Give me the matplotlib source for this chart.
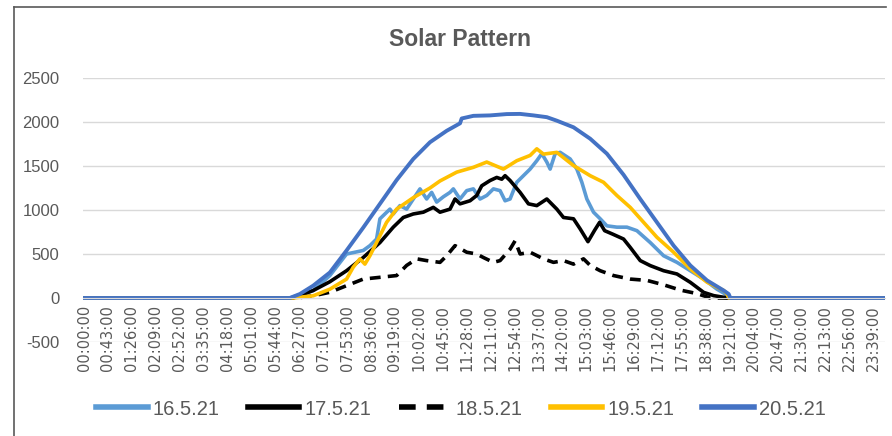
import matplotlib.pyplot as plt

# minutes of the day (x) and power readings (y)
t_16 = [0, 370, 412, 442, 472, 502, 514, 526, 532, 550, 556, 568, 580, 604, 616, 625, 634, 646,
        658, 664, 676, 688, 700, 712, 724, 736, 748, 757, 766, 778, 790, 802, 814, 823, 832, 838,
        847, 856, 874, 886, 895, 904, 916, 928, 940, 958, 976, 994, 1018, 1042, 1066, 1090, 1114,
        1138, 1153, 1159, 1439]
v_16 = [0, 0, 85, 255, 500, 540, 595, 670, 900, 1010, 955, 1050, 1010, 1240, 1125, 1200, 1090, 1150,
        1200, 1240, 1125, 1220, 1240, 1125, 1165, 1240, 1220, 1105, 1125, 1315, 1390, 1465, 1560, 1640,
        1545, 1465, 1640, 1655, 1580, 1465, 1315, 1125, 975, 900, 820, 805, 805, 765, 630, 480, 405,
        310, 215, 100, 45, 0, 0]

t_17 = [0, 376, 412, 442, 472, 502, 532, 556, 574, 592, 610, 628, 640, 658, 667, 676, 694, 706,
        715, 730, 742, 751, 757, 766, 784, 799, 814, 832, 850, 862, 880, 892, 906, 918, 927, 936,
        950, 970, 982, 1000, 1018, 1042, 1066, 1090, 1114, 1132, 1150, 1158, 1439]
v_17 = [0, 0, 85, 185, 310, 460, 630, 805, 915, 955, 975, 1030, 975, 1010, 1125, 1070, 1105, 1165,
        1275, 1335, 1370, 1350, 1390, 1335, 1200, 1070, 1050, 1125, 1010, 915, 900, 785, 640, 770,
        860, 765, 727, 670, 575, 425, 368, 310, 273, 178, 64, 27, 8, 0, 0]

t_18 = [0, 382, 412, 442, 472, 502, 532, 562, 580, 598, 616, 640, 652, 667, 688, 706, 718, 736,
        748, 766, 775, 784, 802, 826, 844, 862, 880, 898, 910, 928, 952, 982, 1012, 1042, 1072,
        1102, 1126, 1439]
v_18 = [0, 0, 25, 65, 140, 215, 235, 255, 370, 445, 425, 405, 480, 595, 520, 500, 460, 405,
        425, 555, 650, 500, 520, 445, 405, 425, 385, 445, 370, 310, 255, 215, 200, 150, 90,
        50, 0, 0]

t_19 = [0, 376, 412, 442, 472, 484, 496, 505, 514, 526, 544, 562, 592, 622, 640, 670, 700, 724,
        754, 778, 802, 814, 826, 850, 880, 910, 934, 958, 982, 1006, 1030, 1060, 1090, 1120, 1150,
        1156, 1159, 1439]
v_19 = [0, 0, 25, 100, 215, 350, 445, 385, 480, 630, 860, 1010, 1140, 1250, 1330, 1430, 1485, 1545,
        1465, 1560, 1620, 1695, 1635, 1655, 1505, 1390, 1315, 1165, 1030, 860, 690, 520, 330, 180, 85,
        45, 0, 0]

t_20 = [0, 370, 388, 412, 442, 472, 502, 532, 562, 592, 622, 652, 676, 679, 700, 730, 760, 784,
        808, 832, 850, 880, 910, 940, 970, 1000, 1030, 1060, 1090, 1120, 1150, 1159, 1162, 1439]
v_20 = [0, 0, 45, 140, 290, 540, 800, 1070, 1340, 1580, 1770, 1900, 1985, 2040, 2070, 2075, 2090, 2092,
        2075, 2055, 2015, 1940, 1810, 1640, 1400, 1125, 860, 595, 370, 200, 85, 45, 0, 0]

tick_pos = list(range(0, 1440, 43))
tick_labels = ['%02d:%02d:00' % (m // 60, m % 60) for m in tick_pos]
y_ticks = [-500, 0, 500, 1000, 1500, 2000, 2500]

gray = '#595959'

fig = plt.figure(figsize=(8.92, 4.36), dpi=100)
ax = fig.add_axes([83 / 892, 94 / 436, 802 / 892, 264 / 436])

# axis line sits at y=0 like in excel; do this first, it resets the ticks
for s in ['top', 'right', 'left']:
    ax.spines[s].set_visible(False)
ax.spines['bottom'].set_position(('data', 0))
ax.spines['bottom'].set_color('#D9D9D9')

ax.plot(t_16, v_16, color='#5B9BD5', lw=2.6, label='16.5.21')
ax.plot(t_17, v_17, color='#000000', lw=2.6, label='17.5.21')
ax.plot(t_18, v_18, color='#000000', lw=2.6, ls=(0, (3, 2)), label='18.5.21')
ax.plot(t_19, v_19, color='#FFC000', lw=2.6, label='19.5.21')
ax.plot(t_20, v_20, color='#4472C4', lw=2.8, label='20.5.21')

ax.set_xlim(-1.8, 1440)
ax.set_ylim(-500, 2500)
ax.set_yticks(y_ticks)
ax.set_yticklabels([str(y) for y in y_ticks], fontfamily='Liberation Sans', fontsize=12, color=gray)
ax.set_xticks(tick_pos)
ax.set_xticklabels(tick_labels, rotation=90, fontfamily='DejaVu Sans', fontsize=10.5, color=gray)
ax.tick_params(axis='both', length=0)
ax.tick_params(axis='x', pad=5)
ax.tick_params(axis='y', pad=17)
ax.grid(axis='y', color='#D9D9D9', lw=1)
ax.set_axisbelow(True)

fig.text(460 / 892, 1 - 40 / 436, 'Solar Pattern', ha='center', va='center',
         fontfamily='Liberation Sans', fontweight='bold', fontsize=16.5, color=gray)

leg = fig.legend(loc='center', bbox_to_anchor=(461 / 892, 1 - 409 / 436), ncol=5, frameon=False,
                 prop={'family': 'Liberation Sans', 'size': 14.5}, handlelength=2.55,
                 handletextpad=0.25, columnspacing=1.4)
for line in leg.get_lines():
    line.set_linewidth(4)
for txt in leg.get_texts():
    txt.set_color(gray)

# chart border (top and left visible in the crop)
fig.add_artist(plt.Line2D([14 / 892, 886 / 892], [1 - 7 / 436, 1 - 7 / 436], color='#595959', lw=1.2))
fig.add_artist(plt.Line2D([14 / 892, 14 / 892], [0, 1 - 7 / 436], color='#595959', lw=1.2))

plt.savefig('out.png', dpi=100)
